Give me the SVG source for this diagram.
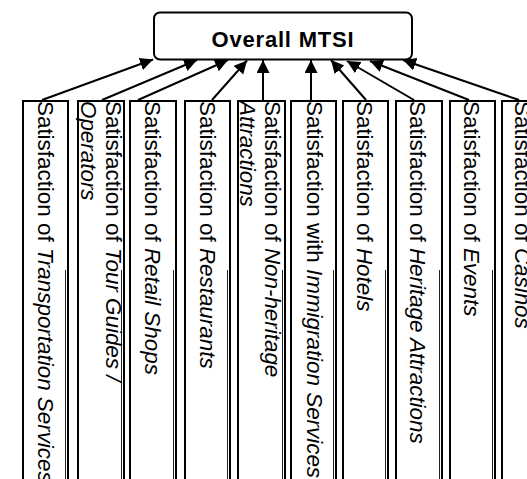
<svg xmlns="http://www.w3.org/2000/svg" width="527" height="479" viewBox="0 0 527 479">
<style>
.box{fill:#fff;stroke:#000;stroke-width:2}
.inner{stroke:#222;stroke-width:1;fill:none}
.lbl{font-family:"Liberation Sans",Arial,sans-serif;font-size:22.4px;fill:#000}
.it{font-style:italic}
.title{font-family:"Liberation Sans",Arial,sans-serif;font-size:22px;font-weight:bold;letter-spacing:0.8px;fill:#000}
.conn line{stroke:#000;stroke-width:2;marker-end:url(#ah)}
</style>
<defs>
<marker id="ah" markerUnits="userSpaceOnUse" markerWidth="14" markerHeight="14" refX="13" refY="6.5" orient="auto">
<path d="M0,0 L13,6.5 L0,13 z" fill="#000"/>
</marker>
</defs>
<rect width="527" height="479" fill="#fff"/>
<g id="overall">
<rect x="154" y="12.5" width="258" height="47" rx="6" ry="6" fill="#fff" stroke="#000" stroke-width="2"/>
<text class="title" x="283" y="46.5" text-anchor="middle">Overall MTSI</text>
</g>
<g id="n1"><rect class="box" x="23" y="101" width="45" height="400"/>
<line class="inner" x1="65.5" y1="270" x2="65.5" y2="479"/>
<text class="lbl" transform="translate(38,101) rotate(90)">Satisfaction of <tspan class="it">Transportation Services</tspan></text></g>
<g id="n2"><rect class="box" x="78" y="101" width="46" height="400"/>
<line class="inner" x1="121.5" y1="270" x2="121.5" y2="479"/>
<text class="lbl" transform="translate(106,101) rotate(90)">Satisfaction of <tspan class="it">Tour Guides /</tspan></text>
<text class="lbl it" transform="translate(81,101) rotate(90)">Operators</text></g>
<g id="n3"><rect class="box" x="130" y="101" width="46" height="400"/>
<line class="inner" x1="173.5" y1="270" x2="173.5" y2="479"/>
<text class="lbl" transform="translate(145,101) rotate(90)">Satisfaction of <tspan class="it">Retail Shops</tspan></text></g>
<g id="n4"><rect class="box" x="185" y="101" width="45" height="400"/>
<line class="inner" x1="227.5" y1="270" x2="227.5" y2="479"/>
<text class="lbl" transform="translate(199.5,101) rotate(90)">Satisfaction of <tspan class="it">Restaurants</tspan></text></g>
<g id="n5"><rect class="box" x="238" y="101" width="47" height="400"/>
<line class="inner" x1="282.5" y1="270" x2="282.5" y2="479"/>
<text class="lbl" transform="translate(265,101) rotate(90)">Satisfaction of <tspan class="it">Non-heritage</tspan></text>
<text class="lbl it" transform="translate(240,101) rotate(90)">Attractions</text></g>
<g id="n6"><rect class="box" x="291" y="101" width="45" height="400"/>
<line class="inner" x1="333.5" y1="270" x2="333.5" y2="479"/>
<text class="lbl" transform="translate(307,101) rotate(90)">Satisfaction with <tspan class="it">Immigration Services</tspan></text></g>
<g id="n7"><rect class="box" x="343" y="101" width="45" height="400"/>
<line class="inner" x1="385.5" y1="270" x2="385.5" y2="479"/>
<text class="lbl" transform="translate(357,101) rotate(90)">Satisfaction of <tspan class="it">Hotels</tspan></text></g>
<g id="n8"><rect class="box" x="396" y="101" width="46" height="400"/>
<line class="inner" x1="439.5" y1="270" x2="439.5" y2="479"/>
<text class="lbl" transform="translate(410,101) rotate(90)">Satisfaction of <tspan class="it">Heritage Attractions</tspan></text></g>
<g id="n9"><rect class="box" x="450" y="101" width="45" height="400"/>
<line class="inner" x1="492.5" y1="270" x2="492.5" y2="479"/>
<text class="lbl" transform="translate(464,101) rotate(90)">Satisfaction of <tspan class="it">Events</tspan></text></g>
<g id="n10"><rect class="box" x="502" y="101" width="46" height="400"/>
<text class="lbl" transform="translate(515,101) rotate(90)">Satisfaction of <tspan class="it">Casinos</tspan></text></g>
<g id="connectors" class="conn">
<line x1="42" y1="100" x2="153" y2="59.5"/>
<line x1="102" y1="100" x2="197" y2="60"/>
<line x1="138" y1="100" x2="228" y2="60"/>
<line x1="212" y1="100" x2="247" y2="60.5"/>
<line x1="263" y1="100" x2="263" y2="60"/>
<line x1="311" y1="100" x2="311" y2="60"/>
<line x1="366" y1="100" x2="331" y2="60"/>
<line x1="414" y1="100" x2="347" y2="61"/>
<line x1="469" y1="100" x2="370" y2="61"/>
<line x1="519" y1="100" x2="403" y2="60"/>
</g>
</svg>
